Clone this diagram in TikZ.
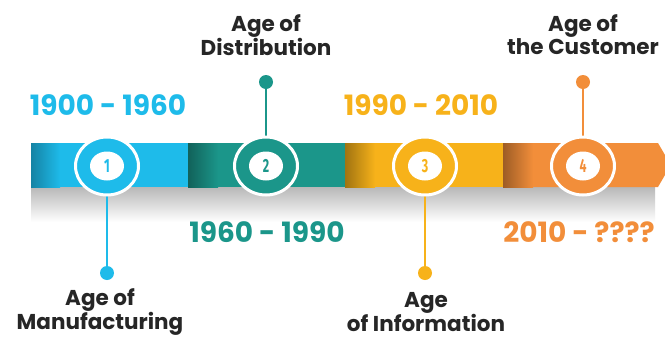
\documentclass[tikz,border=0pt]{standalone}
\usepackage{fontspec}
\setmainfont{Poppins}
\newfontfamily\numfont{Fira Sans}
\usetikzlibrary{shapes.geometric}
\definecolor{cblue}{HTML}{1EBBEA}
\definecolor{cteal}{HTML}{1B968A}
\definecolor{cyel}{HTML}{F7B21A}
\definecolor{cora}{HTML}{F28E3A}
\tikzset{
  yeartext/.style={font=\fontsize{28}{30}\selectfont\bfseries, inner sep=0pt},
  agetext/.style={font=\fontsize{21.5}{23}\selectfont\bfseries, align=center, inner sep=0pt, text=black!85},
  dotnode/.style={circle, fill=#1, minimum size=14pt, inner sep=0pt},
  ringnode/.style={ellipse, fill=#1, draw=white, line width=3pt, minimum width=63pt, minimum height=58pt, inner sep=0pt},
  innernode/.style={ellipse, fill=white, minimum width=34pt, minimum height=29pt, inner sep=0pt, text=#1, font=\numfont\bfseries\fontsize{19}{19}\selectfont},
  conn/.style={line width=2pt, draw=#1},
}
\begin{document}
\begin{tikzpicture}[x=1pt,y=-1pt]
\fill[white] (0,0) rectangle (665,338);
\useasboundingbox (0,0) rectangle (665,338);
% shadow
\shade[top color=black!28, bottom color=white] (31,187) rectangle (655,222);
% bar segments
\fill[cblue] (31,143) rectangle (188,187);
\shade[left color=cblue!70!black, right color=cblue] (31,143) rectangle (60,187);
\fill[cteal] (188,143) rectangle (345,187);
\shade[left color=cteal!65!black, right color=cteal] (188,143) rectangle (218,187);
\fill[cyel] (345,143) rectangle (503,187);
\shade[left color=cyel!65!black, right color=cyel] (345,143) rectangle (375,187);
\fill[cora] (503,143) -- (658,143) -- (665,155) -- (665,175) -- (658,187) -- (503,187) -- cycle;
\shade[left color=cora!65!black, right color=cora] (503,143) rectangle (533,187);
% circle centres
\coordinate (c1) at (107,166);
\coordinate (c2) at (266,166);
\coordinate (c3) at (425,166);
\coordinate (c4) at (583,166);
% dots
\node[dotnode=cblue] (d1) at (107,273) {};
\node[dotnode=cteal] (d2) at (266,82) {};
\node[dotnode=cyel] (d3) at (425,273) {};
\node[dotnode=cora] (d4) at (583,82) {};
% connectors
\draw[conn=cblue] (d1.center) -- (c1);
\draw[conn=cteal] (d2.center) -- (c2);
\draw[conn=cyel] (d3.center) -- (c3);
\draw[conn=cora] (d4.center) -- (c4);
% rings
\node[ringnode=cblue] (r1) at (c1) {};
\node[ringnode=cteal] (r2) at (c2) {};
\node[ringnode=cyel] (r3) at (c3) {};
\node[ringnode=cora] (r4) at (c4) {};
\node[innernode=cblue] (n1) at (c1) {\scalebox{0.65}[1]{1}};
\node[innernode=cteal] (n2) at (c2) {\scalebox{0.65}[1]{2}};
\node[innernode=cyel] (n3) at (c3) {\scalebox{0.65}[1]{3}};
\node[innernode=cora] (n4) at (c4) {\scalebox{0.65}[1]{4}};
% years
\node[yeartext, text=cblue] (y1) at (108,105) {1900 - 1960};
\node[yeartext, text=cteal] (y2) at (267,232) {1960 - 1990};
\node[yeartext, text=cyel] (y3) at (421,105) {1990 - 2010};
\node[yeartext, text=cora] (y4) at (579,232) {2010 - ????};
% age labels
\node[agetext] (a2) at (266,35) {Age of\\Distribution};
\node[agetext] (a4) at (583,35) {Age of\\the Customer};
\node[agetext] (a1) at (100,312) {Age of\\Manufacturing};
\node[agetext] (a3) at (426,312) {Age\\of Information};
\end{tikzpicture}
\end{document}
